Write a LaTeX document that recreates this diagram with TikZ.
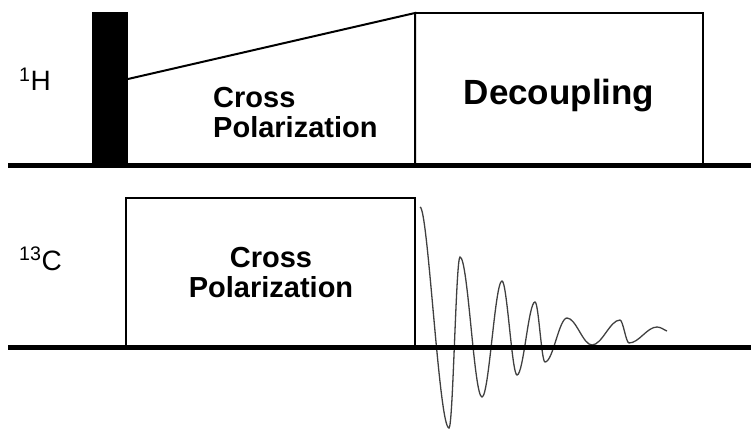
\documentclass[tikz,border=0pt]{standalone}
\usepackage{fontspec}
\setmainfont{Liberation Sans}
\tikzset{
  channel/.style={line width=5pt},
  pulsebox/.style={line width=2pt},
  fid/.style={line width=1.3pt, black!75},
  cplabel/.style={font=\bfseries\fontsize{29}{30}\selectfont, inner sep=0pt},
  nuc/.style={font=\fontsize{28}{30}\selectfont, inner sep=0pt, anchor=base west}
}
\begin{document}
\begin{tikzpicture}[x=1pt,y=-1pt]
        \useasboundingbox (0,0) rectangle (751,430);

        \coordinate (hstart) at (8,165.5);
        \coordinate (hend) at (751,165.5);
        \coordinate (cstart) at (8,347.5);
        \coordinate (cend) at (751,347.5);

        \coordinate (ramplow) at (128,79);
        \coordinate (ramphigh) at (415,13);
        \coordinate (decend) at (703,165);
        \coordinate (cpleft) at (126,198);
        \coordinate (cpright) at (415,347);
        \coordinate (fidstart) at (420,207);

        \node[nuc] (hlabel) at (19,91) {\textsuperscript{1}H};
        \node[nuc] (clabel) at (19,270) {\textsuperscript{13}C};

        \fill (92,12) rectangle (128,165);
        \draw[pulsebox] (ramplow) -- (ramphigh) -- (415,165);
        \draw[pulsebox] (ramphigh) rectangle (decend);
        \draw[pulsebox] (126,347) -- (cpleft) -- (415,198) -- (cpright);

        \node[cplabel, anchor=base west, align=left] (cph) at (213,138) {Cross\\Polarization};
        \node[cplabel, anchor=base, align=center] (cpc) at (271,297) {Cross\\Polarization};
        \node[font=\bfseries\fontsize{35}{40}\selectfont, inner sep=0pt, anchor=base] (dec) at (559,105) {Decoupling};

        \draw[fid] (fidstart)
            .. controls +(8,0) and +(-10,0) .. (449,428)
            .. controls +(4,0) and +(-4,0) .. (460,257)
            .. controls +(8,0) and +(-8,0) .. (482,397)
            .. controls +(7,0) and +(-7,0) .. (502,281)
            .. controls +(5,0) and +(-5,0) .. (517,375)
            .. controls +(6.5,0) and +(-6.5,0) .. (535,302)
            .. controls +(3.6,0) and +(-3.6,0) .. (545,362)
            .. controls +(8,0) and +(-8,0) .. (567,318)
            .. controls +(9,0) and +(-9,0) .. (592,345)
            .. controls +(10,0) and +(-10,0) .. (620,320)
            .. controls +(3,0) and +(-3,0) .. (629,343)
            .. controls +(10,0) and +(-10,0) .. (657,327)
            .. controls +(4,0) and +(-3,-1) .. (667,331);

        \draw[channel] (hstart) -- (hend);
        \draw[channel] (cstart) -- (cend);
    \end{tikzpicture}
\end{document}
